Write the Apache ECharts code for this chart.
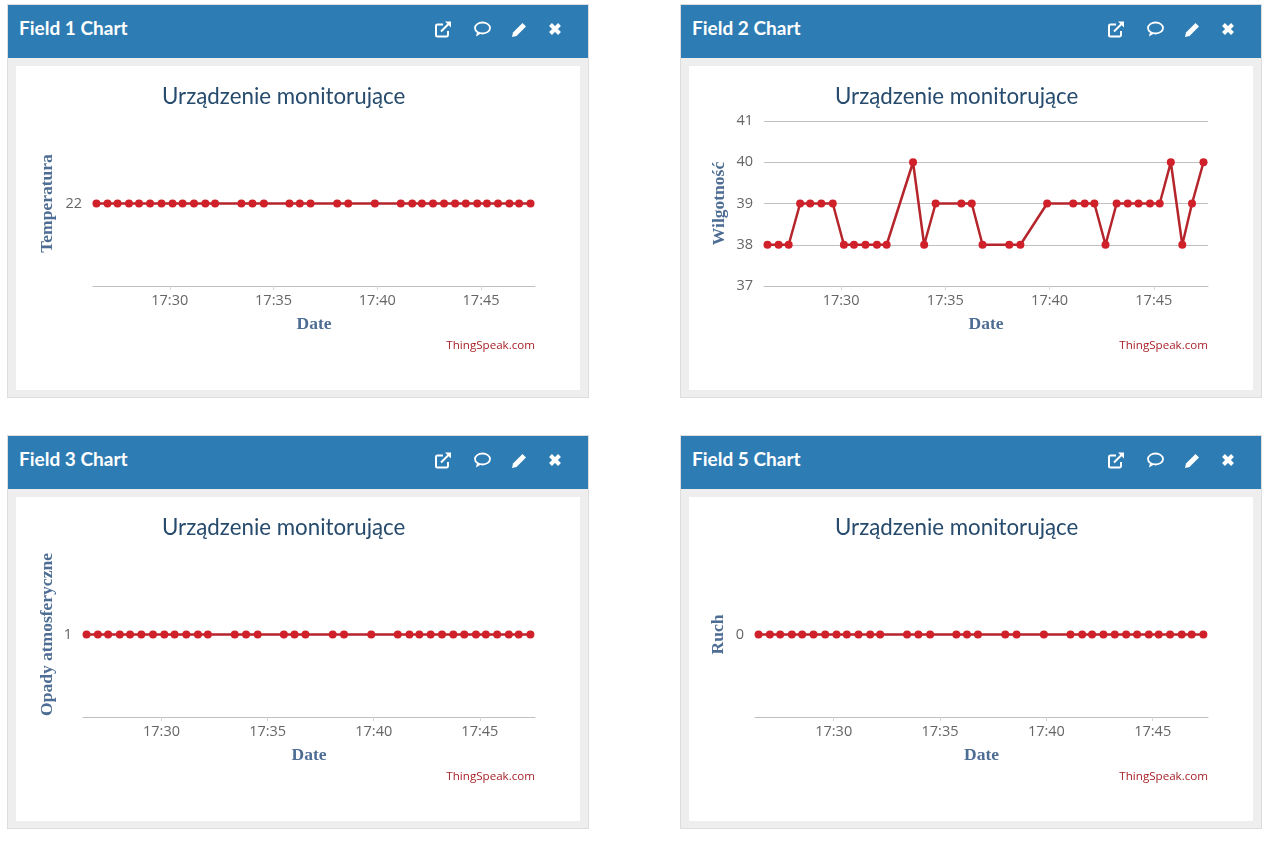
<!DOCTYPE html>
<html>
<head>
<meta charset="utf-8">
<title>ThingSpeak</title>
<script src="https://cdn.jsdelivr.net/npm/echarts@6/dist/echarts.min.js"></script>
<style>
html, body { margin: 0; padding: 0; background: #fff; width: 1266px; height: 844px; overflow: hidden; }
.card { position: absolute; width: 582px; height: 394px; background: #eeeeee; box-sizing: border-box; border: 1px solid #dddddd; }
.head { position: absolute; left: 0; top: 0; right: 0; height: 53px; background: #2e7cb4; color: #fff;
        font: bold 19px/46px Lato, "Open Sans", sans-serif; padding-left: 11px; }
.head svg { position: absolute; top: 15px; width: 18px; height: 18px; }
.chart { position: absolute; left: 8px; top: 61px; width: 564px; height: 324px; background: #fff; }
</style>
</head>
<body>
<script>
var times = ['17:26:28','17:27:00','17:27:29','17:28:02','17:28:31','17:29:03','17:29:36','17:30:08','17:30:37',
    '17:31:10','17:31:43','17:32:11','17:33:27','17:33:59','17:34:32','17:35:46','17:36:16','17:36:47','17:38:04',
    '17:38:36','17:39:53','17:41:08','17:41:41','17:42:09','17:42:41','17:43:13','17:43:45','17:44:16','17:44:49',
    '17:45:17','17:45:49','17:46:22','17:46:50','17:47:23'];
var timeTicks = ['17:30:00','17:35:00','17:40:00','17:45:00'];

var temperatura = [22,22,22,22,22,22,22,22,22,22,22,22,22,22,22,22,22,22,22,22,22,22,22,22,22,22,22,22,22,22,22,22,22,22];
var wilgotnosc  = [38,38,38,39,39,39,39,38,38,38,38,38,40,38,39,39,39,38,38,38,39,39,39,39,38,39,39,39,39,39,40,38,39,40];
var opady       = [1,1,1,1,1,1,1,1,1,1,1,1,1,1,1,1,1,1,1,1,1,1,1,1,1,1,1,1,1,1,1,1,1,1];
var ruch        = [0,0,0,0,0,0,0,0,0,0,0,0,0,0,0,0,0,0,0,0,0,0,0,0,0,0,0,0,0,0,0,0,0,0];

var cards = [
    { head: 'Field 1 Chart', name: 'Temperatura', data: temperatura, ticks: [22], min: 21, max: 23, x: 7, y: 4, left: 77, gap: 37 },
    { head: 'Field 2 Chart', name: 'Wilgotność', data: wilgotnosc, ticks: [37, 38, 39, 40, 41], min: 37, max: 41, x: 680, y: 4, left: 75, gap: 36, grid: true },
    { head: 'Field 3 Chart', name: 'Opady atmosferyczne', data: opady, ticks: [1], min: 0, max: 2, x: 7, y: 435, left: 67, gap: 27 },
    { head: 'Field 5 Chart', name: 'Ruch', data: ruch, ticks: [0], min: -1, max: 1, x: 680, y: 435, left: 66, gap: 28 }
];

var icons = [
    // external link
    '<path d="M14 11v4a1.5 1.5 0 0 1-1.5 1.5h-9A1.5 1.5 0 0 1 2 15V6a1.5 1.5 0 0 1 1.5-1.5H9" fill="none" stroke="#fff" stroke-width="2"/><path d="M7 11.500 15 3.500" stroke="#fff" stroke-width="2"/><path d="M11 1.500h6v6z" fill="#fff"/>',
    // comment
    '<ellipse cx="9.500" cy="8" rx="7.500" ry="5.500" fill="none" stroke="#fff" stroke-width="1.800"/><path d="M4 12 3 16.500 8 13.500" fill="#fff"/>',
    // pencil
    '<path d="M3 12.500 12.500 3l3.500 3.500L6.500 16 2 17z" fill="#fff"/>',
    // close
    '<path d="M4.500 4.500l9 9M13.500 4.500l-9 9" stroke="#fff" stroke-width="4"/>'
];
var iconLeft = [426, 465, 502, 538];

function toMs(t) {
    return new Date('2018-05-14T' + t).getTime();
}

cards.forEach(function (c) {
    var el = document.createElement('div');
    el.className = 'card';
    el.style.left = c.x + 'px';
    el.style.top = c.y + 'px';
    var svg = icons.map(function (p, i) {
        return '<svg viewBox="0 0 18 18" style="left:' + iconLeft[i] + 'px">' + p + '</svg>';
    }).join('');
    el.innerHTML = '<div class="head">' + c.head + svg + '</div><div class="chart"></div>';
    document.body.appendChild(el);

    var chart = echarts.init(el.querySelector('.chart'));
    chart.setOption({
        animation: false,
        title: [{
            text: 'Urządzenie monitorujące',
            left: 141,
            top: 15,
            textStyle: { color: '#274b6d', fontSize: 22.3, fontWeight: 'normal', fontFamily: 'Lato' }
        }, {
            text: 'ThingSpeak.com',
            right: 40,
            top: 269,
            textStyle: { color: '#a8232a', fontSize: 11.6, fontWeight: 'normal', fontFamily: 'Open Sans' }
        }],
        grid: { left: c.left, right: 45, top: 55, height: 165 },
        xAxis: {
            type: 'value',
            min: toMs('17:26:18'),
            max: toMs('17:47:36'),
            name: 'Date',
            nameLocation: 'middle',
            nameGap: 29,
            nameTextStyle: { color: '#4d6d94', fontSize: 17.5, fontWeight: 'bold', fontFamily: 'Liberation Serif' },
            axisLine: { onZero: false, lineStyle: { color: '#c0c0c0', width: 1 } },
            axisTick: { show: true, length: 4, customValues: timeTicks.map(toMs), lineStyle: { color: '#d5d5d5' } },
            axisLabel: {
                customValues: timeTicks.map(toMs),
                margin: 7,
                color: '#666666',
                fontSize: 14.5,
                fontFamily: 'Open Sans',
                formatter: function (v) {
                    var d = new Date(v);
                    return d.getHours() + ':' + ('0' + d.getMinutes()).slice(-2);
                }
            },
            splitLine: { show: false }
        },
        yAxis: {
            type: 'value',
            min: c.min,
            max: c.max,
            name: c.name,
            nameLocation: 'middle',
            nameGap: c.gap,
            nameMoveOverlap: false,
            nameTextStyle: { color: '#4d6d94', fontSize: 17.5, fontWeight: 'bold', fontFamily: 'Liberation Serif' },
            axisLine: { show: false },
            axisTick: { show: false },
            axisLabel: { customValues: c.ticks, margin: 11, color: '#666666', fontSize: 14.5, fontFamily: 'Open Sans' },
            splitLine: { show: !!c.grid, lineStyle: { color: '#c0c0c0', width: 1 } }
        },
        series: [{
            type: 'line',
            data: times.map(function (t, i) { return [toMs(t), c.data[i]]; }),
            symbol: 'circle',
            symbolSize: 8,
            showSymbol: true,
            showAllSymbols: true,
            clip: false,
            lineStyle: { color: '#b5252c', width: 2.5 },
            itemStyle: { color: '#d0202a' }
        }]
    });
});
</script>
</body>
</html>
